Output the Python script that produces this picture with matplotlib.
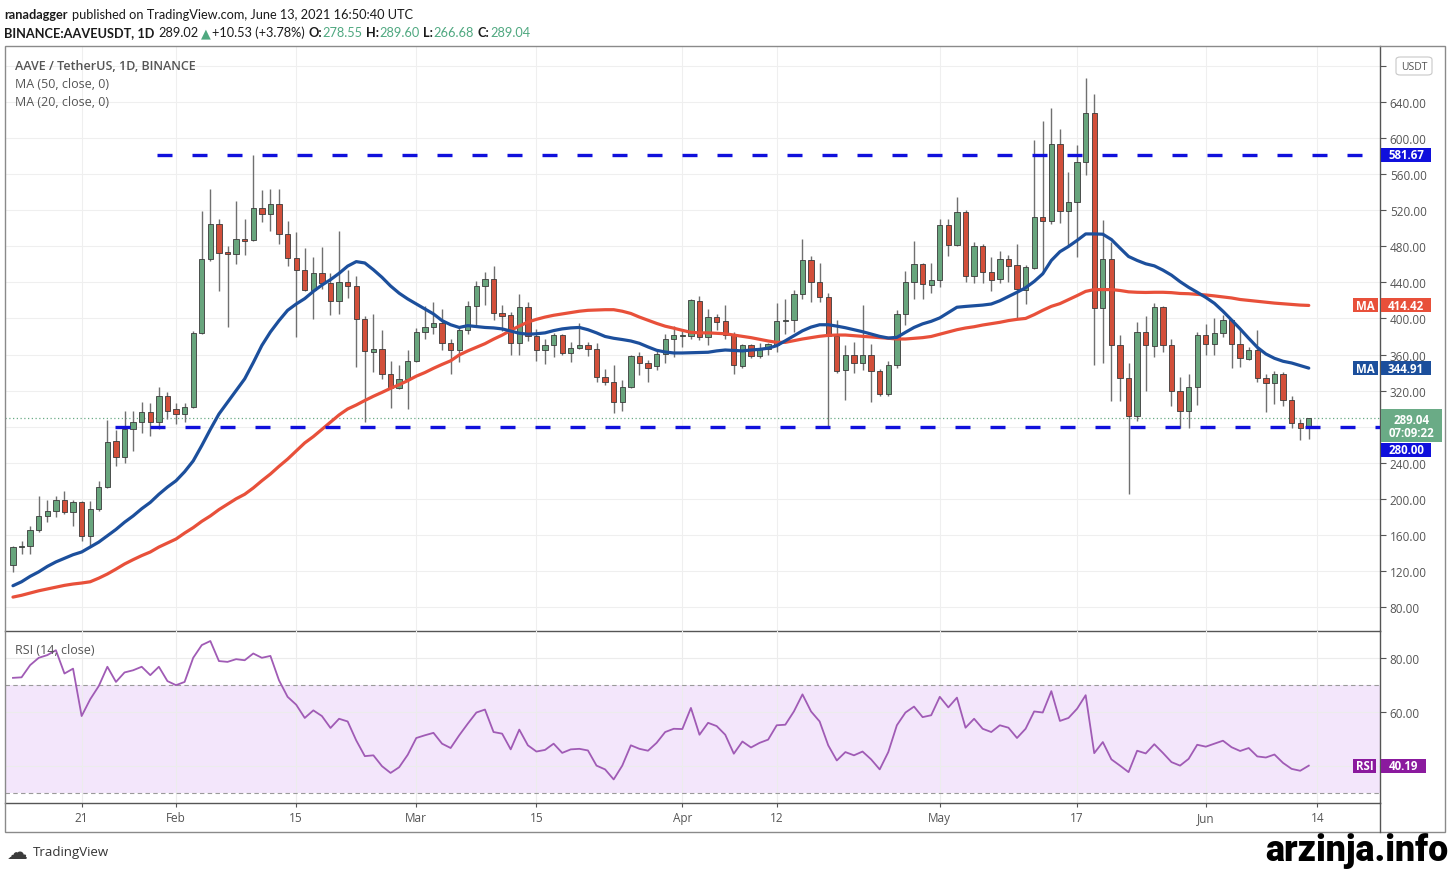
import numpy as np
import pandas as pd
import matplotlib
matplotlib.use("Agg")
import matplotlib.pyplot as plt
import matplotlib.dates as mdates
import matplotlib.ticker as mticker
from matplotlib.patches import Rectangle, FancyBboxPatch
from matplotlib.lines import Line2D

# -------------------------------------------------------------
# DATA (AAVE/USDT daily)
# -------------------------------------------------------------
dates = pd.date_range("2021-01-13", "2021-06-13", freq="D")

opens = [127, 146, 148, 165, 181, 186, 199, 185, 196, 159,
         189, 213, 264, 246, 277, 285, 296, 285, 314, 300,
         294, 302, 384, 466, 505, 474, 472, 488, 487, 522,
         516, 527, 494, 467, 454, 432, 450, 439, 419, 440,
         436, 399, 363, 366, 338, 323, 333, 353, 385, 390,
         395, 373, 365, 387, 414, 436, 444, 406, 404, 373,
         413, 380, 365, 370, 382, 362, 367, 370, 366, 335,
         329, 307, 324, 358, 351, 347, 361, 377, 381, 381,
         419, 379, 402, 397, 382, 347, 370, 358, 366, 370,
         397, 398, 427, 465, 440, 424, 381, 343, 360, 351,
         360, 342, 316, 348, 405, 440, 460, 437, 443, 504,
         481, 518, 447, 480, 452, 444, 466, 459, 432, 456,
         513, 508, 593, 519, 529, 573, 628, 412, 466, 371,
         334, 292, 385, 369, 413, 371, 319, 297, 324, 382,
         372, 384, 398, 372, 355, 365, 334, 328, 338, 310,
         284, 278.55]
highs = [148, 153, 170, 203, 199, 203, 209, 199, 198, 198,
         220, 287, 276, 297, 297, 307, 306, 324, 318, 306,
         306, 386, 519, 544, 510, 480, 530, 510, 581, 542,
         544, 543, 508, 496, 478, 468, 479, 450, 497, 454,
         447, 403, 405, 387, 353, 348, 365, 389, 414, 418,
         410, 377, 390, 419, 442, 451, 458, 415, 407, 427,
         418, 388, 377, 384, 383, 374, 395, 374, 373, 344,
         348, 332, 360, 363, 354, 366, 383, 392, 386, 422,
         425, 411, 405, 415, 385, 372, 372, 373, 373, 417,
         421, 432, 488, 469, 462, 428, 398, 371, 374, 415,
         372, 344, 353, 409, 453, 486, 462, 462, 510, 510,
         535, 520, 485, 482, 468, 475, 470, 482, 459, 598,
         619, 633, 610, 562, 592, 667, 649, 509, 485, 382,
         351, 396, 403, 417, 414, 377, 335, 338, 385, 394,
         401, 404, 399, 387, 368, 387, 338, 342, 341, 314,
         288, 289.60]
lows = [119, 139, 139, 163, 174, 180, 183, 170, 153, 148,
        186, 212, 236, 240, 253, 273, 270, 277, 288, 283,
        285, 301, 383, 464, 430, 390, 460, 470, 486, 507,
        497, 482, 458, 379, 430, 399, 433, 404, 405, 423,
        346, 285, 341, 333, 301, 322, 300, 352, 377, 383,
        365, 338, 352, 383, 393, 415, 398, 386, 359, 359,
        375, 353, 350, 357, 360, 352, 366, 358, 330, 326,
        295, 297, 323, 337, 330, 343, 351, 357, 368, 377,
        376, 371, 387, 377, 338, 345, 356, 356, 359, 363,
        383, 385, 422, 418, 418, 281, 340, 309, 340, 343,
        307, 314, 314, 345, 393, 422, 422, 428, 435, 469,
        480, 440, 439, 439, 430, 439, 440, 399, 416, 455,
        453, 505, 506, 481, 468, 559, 348, 351, 308, 308,
        205, 286, 320, 357, 363, 303, 279, 279, 304, 360,
        360, 379, 345, 346, 354, 330, 296, 305, 303, 279,
        265, 266.68]
closes = [146, 148, 165, 181, 186, 199, 185, 196, 159, 189,
          213, 263, 246, 277, 285, 296, 285, 314, 297, 294,
          302, 384, 466, 505, 473, 472, 488, 486, 522, 516,
          527, 494, 467, 454, 432, 450, 439, 419, 440, 436,
          399, 364, 366, 338, 323, 333, 353, 385, 390, 395,
          373, 365, 387, 414, 436, 444, 406, 403, 373, 413,
          380, 365, 370, 382, 362, 367, 370, 366, 335, 329,
          307, 324, 358, 351, 345, 361, 377, 382, 381.5, 420,
          379, 402, 396, 382, 348, 370, 358, 366, 372, 397,
          398, 427, 465, 440, 424, 381, 342, 360, 351, 360,
          342, 316, 348, 405, 440, 460, 438, 443, 504, 481,
          518, 447, 480, 452, 443, 466, 458, 433, 457, 513,
          508, 593, 519, 529, 573, 628, 412, 466, 371, 334,
          292, 385, 370, 413, 371, 319, 297, 324, 382, 372,
          384, 398, 372, 356, 365, 334, 328, 338, 310, 284,
          278.55, 289.04]

ma20 = [103.6, 108, 114, 119, 125, 130, 134, 138, 141, 146.5,
        152, 159, 166, 174, 181, 189, 196, 205, 213, 220,
        230, 242, 259, 277, 294, 307, 320, 333, 351, 370,
        385, 397.6, 409, 416, 422, 430, 437, 443, 450, 458,
        463, 461.5, 454, 445.6, 436, 428, 421.6, 416, 410.5, 405,
        397.6, 393, 390, 392, 391, 390, 389.5, 388.4, 386, 383.6,
        382.5, 383, 384, 386.5, 388.4, 389.5, 390, 387.5, 384, 380,
        378, 376.6, 375, 372.4, 368.4, 364.7, 362.8, 361.7, 361.7, 362,
        362.3, 362.5, 364, 365, 364.5, 364, 365, 365.7, 367, 369.8,
        375.2, 380.8, 386.3, 390.4, 393, 393, 391.5, 389.7, 387.5, 385.3,
        382.7, 380.1, 378.3, 379, 384.6, 390, 394, 396.8, 400.6, 406.5,
        412.4, 413.3, 414, 414.8, 416, 419.6, 424.3, 429, 434, 441,
        449.5, 464.3, 474, 479.8, 486.5, 493.7, 493.7, 493.4, 487.5, 478,
        468.7, 464.3, 460.6, 458.3, 453.6, 448, 440.8, 434.5, 429, 423.3,
        416.8, 408, 398.3, 388.4, 378, 368, 360.6, 355.8, 352.5, 350.6,
        347.7, 344.91]
ma50 = [91, 93, 95.5, 98, 100, 102, 104, 105.5, 106.6, 108,
        112, 116.6, 122, 127.7, 132.5, 137, 141, 146.5, 151, 155.4,
        162, 168, 175, 181, 188, 194, 200, 205, 212, 220,
        227.5, 236, 244, 253, 262, 269, 277, 285, 293, 299.6,
        304, 309, 313.7, 318, 322.5, 326.5, 331, 336, 340, 344.7,
        349, 353, 359.5, 364, 368, 372, 377, 381.5, 386.8, 391.5,
        396, 399, 401.5, 403.5, 405, 406.5, 408, 409, 409.4, 409.7,
        409.7, 408, 405.5, 401.5, 398, 394.5, 391.4, 389.2, 386.8, 384.6,
        384, 384, 383.5, 383, 381.6, 380.2, 378.7, 376.9, 375, 373.5,
        373.5, 375.4, 377.2, 378.7, 380.2, 381.2, 381.6, 381.6, 380.9, 380.2,
        379.4, 378.7, 378, 377.2, 377.2, 378, 378.7, 380, 382.5, 385,
        387.5, 389.4, 390.8, 392.7, 394.2, 395.7, 397.6, 399, 400, 404.2,
        409, 413.4, 416.4, 420.8, 425.3, 430, 432, 432, 432, 431,
        429.5, 429, 428.8, 429, 429, 428.6, 427.7, 427.4, 426.7, 426,
        425, 423.8, 422.7, 421, 420, 419, 418, 417, 416.3, 415.6,
        414.8, 414.42]
rsi = [72.6, 72.8, 77.3, 80, 81, 82.8, 74.2, 76, 58.5, 64.7,
       69.6, 76.7, 71.1, 74.6, 75.4, 76.7, 73.6, 76.7, 71.4, 69.9,
       71.1, 80, 84.7, 86.2, 78.8, 78.5, 79.5, 79.1, 81.6, 80,
       80.7, 71.7, 65.6, 62.7, 57.8, 60.6, 58.5, 54.1, 57.5, 56.5,
       49.5, 43.7, 44, 40, 37.5, 39.6, 44.2, 50.4, 51.4, 52.3,
       48.3, 46.7, 51.4, 55.7, 59.8, 60.9, 52.6, 52, 46.2, 53.5,
       47.7, 45.4, 46, 48.3, 44.9, 46.2, 46.4, 45.8, 40.2, 38.8,
       35.1, 40.2, 47.7, 46.4, 45.7, 48.6, 52.6, 53.8, 53.7, 61.5,
       51.6, 56, 54.8, 51.6, 44.6, 49.1, 46.9, 48.6, 49.8, 55.1,
       55.3, 60.2, 66.5, 60.2, 56.5, 47.7, 42.1, 45.2, 44, 45.4,
       42.5, 38.8, 45.2, 55.1, 59.8, 62, 58.1, 58.8, 65.6, 61.7,
       65.3, 54.2, 57.5, 53.8, 52.6, 55.1, 54.2, 50.4, 53.8, 60.2,
       59.8, 67.7, 56.7, 57.8, 61.2, 66.2, 44.8, 48.9, 42.5, 40.2,
       37.8, 45.7, 44.7, 48.1, 44.9, 41.5, 40.2, 42.7, 47.9, 47.2,
       48.3, 49.4, 47, 45.6, 46.7, 43.6, 43.2, 44.3, 41.2, 39,
       38.3, 40.19]

tick_dates = ["2021-01-21", "2021-02-01", "2021-02-15", "2021-03-01", "2021-03-15",
              "2021-04-01", "2021-04-12", "2021-05-01", "2021-05-17", "2021-06-01", "2021-06-14"]
tick_labels = ["21", "Feb", "15", "Mar", "15", "Apr", "12", "May", "17", "Jun", "14"]
price_ticks = [80, 120, 160, 200, 240, 280, 320, 360, 400, 440, 480, 520, 560, 600, 640, 680]
rsi_ticks = [40, 60, 80]

resistance = 581.67
support = 280.00
resistance_from = "2021-01-29 19:00"
support_from = "2021-01-24 22:00"
countdown = "07:09:22"

# colours
UP = "#68a57d"
DOWN = "#d24f3a"
WICK = "#707070"
MA20_C = "#1c4f9c"
MA50_C = "#e8503a"
LEVEL_C = "#1010dc"
RSI_C = "#a05bb5"
RSI_TAG = "#8b1a9e"
LAST_C = "#6aab86"
TXT = "#555555"
VAL_GREEN = "#4fa880"

plt.rcParams["font.family"] = ["Open Sans", "DejaVu Sans"]
HEAD_FONT = ["Lato", "DejaVu Sans"]

W, H = 1453, 870
fig = plt.figure(figsize=(W / 100, H / 100), dpi=100, facecolor="white")


def fx(px):
    return px / W


def fy(py):
    return 1 - py / H


ax = fig.add_axes([fx(5), fy(632), (1380 - 5) / W, (632 - 47) / H])
ax_rsi = fig.add_axes([fx(5), fy(804), (1380 - 5) / W, (804 - 632) / H], sharex=ax)
for a in (ax, ax_rsi):
    a.set_facecolor("none")

x = mdates.date2num(dates.values)
o = np.array(opens, float)
h = np.array(highs, float)
l = np.array(lows, float)
c = np.array(closes, float)

# -------------------------------------------------------------
# PRICE PANE
# -------------------------------------------------------------
ax.vlines(x, l, h, color=WICK, lw=1.0, zorder=2)
up = c >= o
body_h = np.maximum(np.abs(c - o), 1.0)
ax.bar(x, body_h, bottom=np.minimum(o, c), width=0.62,
       color=np.where(up, UP, DOWN), edgecolor="#3a3a3a", linewidth=0.6, zorder=3)

ax.plot(x, ma50, color=MA50_C, lw=2.3, zorder=4, solid_capstyle="round")
ax.plot(x, ma20, color=MA20_C, lw=2.3, zorder=4, solid_capstyle="round")

ax.set_xlim(x[0] - 0.93, x[0] + 159.3)
ax.set_ylim(53.4, 702.1)
x_end = ax.get_xlim()[1]

for lvl, start in ((resistance, resistance_from), (support, support_from)):
    x0 = mdates.date2num(pd.Timestamp(start))
    ax.plot([x0, x_end], [lvl, lvl], color=LEVEL_C, lw=2.4, dashes=(4.5, 6), zorder=5)

ax.axhline(c[-1], color=LAST_C, lw=0.9, ls=(0, (1, 2)), zorder=1)


# scale labels hidden behind the last-price tag and the currency badge stay blank
def price_label(v, pos):
    if abs(v - c[-1]) < 15 or v > 660:
        return ""
    return f"{v:.2f}"


ax.yaxis.tick_right()
ax.set_yticks(price_ticks)
ax.yaxis.set_major_formatter(mticker.FuncFormatter(price_label))
ax.tick_params(axis="y", length=4, width=0.8, color=TXT, labelsize=8.5, labelcolor=TXT, pad=3)
ax.tick_params(axis="x", length=0, labelbottom=False)
ax.grid(True, color="#efefef", lw=0.8)
ax.set_axisbelow(True)

# -------------------------------------------------------------
# RSI PANE
# -------------------------------------------------------------
ax_rsi.axhspan(30, 70, color="#f3e6fb", zorder=0, lw=0)
for lvl in (70, 30):
    ax_rsi.axhline(lvl, color="#9a9a9a", lw=0.8, ls=(0, (4, 3)), zorder=1)
ax_rsi.plot(x, rsi, color=RSI_C, lw=1.3, zorder=3)
ax_rsi.set_ylim(26.4, 89.9)
ax_rsi.yaxis.tick_right()
ax_rsi.set_yticks(rsi_ticks)
ax_rsi.yaxis.set_major_formatter(mticker.FormatStrFormatter("%.2f"))
ax_rsi.tick_params(axis="y", length=4, width=0.8, color=TXT, labelsize=8.5, labelcolor=TXT, pad=3)
ax_rsi.xaxis.set_major_locator(mticker.FixedLocator(mdates.date2num(pd.to_datetime(tick_dates).values)))
ax_rsi.xaxis.set_major_formatter(mticker.FixedFormatter(tick_labels))
ax_rsi.tick_params(axis="x", length=3, width=0.8, color=TXT, labelsize=8.5, labelcolor=TXT, pad=3)
ax_rsi.grid(True, color="#ececec", lw=0.8)
ax_rsi.set_axisbelow(True)

for a in (ax, ax_rsi):
    a.spines["left"].set_visible(False)
    a.spines["top"].set_visible(False)
    for s in ("right", "bottom"):
        a.spines[s].set_color("#555555")
        a.spines[s].set_linewidth(1.0)

# frame and the price-scale line through the time row
fig.add_artist(Rectangle((fx(5), fy(833)), (1445 - 5) / W, (833 - 47) / H, transform=fig.transFigure,
                         fill=False, ec="#8a8a8a", lw=1.0, zorder=8))
fig.add_artist(Line2D([fx(1380), fx(1380)], [fy(804), fy(833)], transform=fig.transFigure,
                      color="#555555", lw=1.0, zorder=8))


# -------------------------------------------------------------
# PRICE TAGS ON THE SCALES
# -------------------------------------------------------------
def tag(axis, value, text, fc, x0=1381, w=50, hh=14, dy=0.0, tc="white", size=8.3):
    ypx = H - axis.transData.transform((0, value))[1]
    cy = ypx + dy
    fig.add_artist(Rectangle((fx(x0), fy(cy + hh / 2)), w / W, hh / H, transform=fig.transFigure,
                             facecolor=fc, edgecolor="none", zorder=9))
    fig.text(fx(x0 + w / 2), fy(cy), text, color=tc, fontsize=size, fontweight="bold",
             ha="center", va="center", zorder=10, linespacing=1.05)


tag(ax, resistance, f"{resistance:.2f}", LEVEL_C)
tag(ax, ma50[-1], "MA", MA50_C, x0=1353, w=25)
tag(ax, ma50[-1], f"{ma50[-1]:.2f}", MA50_C)
tag(ax, ma20[-1], "MA", MA20_C, x0=1353, w=25)
tag(ax, ma20[-1], f"{ma20[-1]:.2f}", MA20_C)
tag(ax, support, f"{support:.2f}", LEVEL_C, dy=23)
tag(ax, c[-1], f"{c[-1]:.2f}\n{countdown}", LAST_C, w=61, hh=33, dy=7.5)
tag(ax_rsi, rsi[-1], "RSI", RSI_TAG, x0=1353, w=23)
tag(ax_rsi, rsi[-1], f"{rsi[-1]:.2f}", RSI_TAG, w=45)

fig.add_artist(FancyBboxPatch((fx(1396), fy(76)), 36 / W, 18 / H, boxstyle="round,pad=0,rounding_size=0.003",
                              transform=fig.transFigure, fc="white", ec="#c8c8c8", lw=0.8, zorder=11))
fig.text(fx(1414), fy(67), "USDT", fontsize=7.5, color=TXT, ha="center", va="center", zorder=12)

# -------------------------------------------------------------
# TEXTS
# -------------------------------------------------------------
renderer = fig.canvas.get_renderer()


def put_row(x_px, y_px, pieces, size):
    xx = x_px
    for txt, col, weight, gap in pieces:
        t = fig.text(fx(xx), fy(y_px), txt, color=col, fontweight=weight, fontsize=size,
                     family=HEAD_FONT, ha="left", va="center")
        xx += t.get_window_extent(renderer).width + gap


line1 = [("ranadagger", "#1a1a1a", "bold", 4),
         ("published on TradingView.com, June 13, 2021 16:50:40 UTC", "#1a1a1a", "normal", 0)]
line2 = [("BINANCE:AAVEUSDT, 1D", "#1a1a1a", "bold", 4),
         ("289.02", "#1a1a1a", "normal", 2),
         ("▲", VAL_GREEN, "normal", 2),
         ("+10.53 (+3.78%)", "#1a1a1a", "normal", 3),
         ("O:", "#1a1a1a", "bold", 1), ("278.55", VAL_GREEN, "normal", 3),
         ("H:", "#1a1a1a", "bold", 1), ("289.60", VAL_GREEN, "normal", 3),
         ("L:", "#1a1a1a", "bold", 1), ("266.68", VAL_GREEN, "normal", 3),
         ("C:", "#1a1a1a", "bold", 1), ("289.04", VAL_GREEN, "normal", 0)]
put_row(4, 15, line1, 9.2)
put_row(4, 33, line2, 9.2)

fig.text(fx(15), fy(67), "AAVE / TetherUS, 1D, BINANCE", fontsize=9, color=TXT, fontweight="semibold", va="center")
fig.text(fx(15), fy(85), "MA (50, close, 0)", fontsize=9, color=TXT, va="center")
fig.text(fx(15), fy(103), "MA (20, close, 0)", fontsize=9, color=TXT, va="center")
fig.text(fx(15), fy(651), "RSI (14, close)", fontsize=9, color=TXT, va="center")

fig.text(fx(7), fy(853), "☁", family="DejaVu Sans", fontsize=15, color="#3b3b3b", va="center")
fig.text(fx(33), fy(853), "TradingView", fontsize=9.5, color="#333333", va="center")

wm = fig.text(fx(1448), fy(861), "arzinja.info", fontsize=20, fontweight=900,
              family=["Roboto", "DejaVu Sans"], ha="right", va="baseline", color="black")
wm.set_fontsize(20 * 184 / wm.get_window_extent(renderer).width)

fig.savefig("out.png", dpi=100, facecolor="white")
